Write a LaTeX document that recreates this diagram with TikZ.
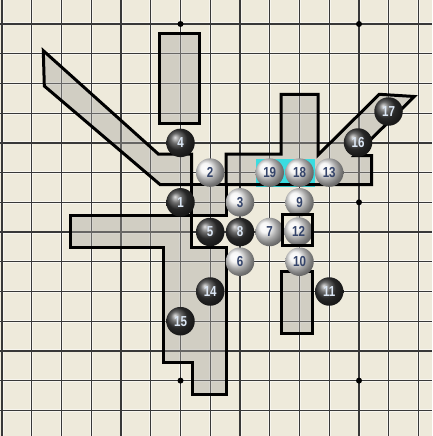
\documentclass[tikz,border=0pt]{standalone}
\usepackage{fontspec}
\setmainfont{Liberation Sans}
\usepackage{graphicx}
\definecolor{board}{HTML}{EEEADB}
\definecolor{shadecol}{HTML}{A9A8A2}
\definecolor{hl}{HTML}{3ADCE0}
\definecolor{bnum}{HTML}{DCE7F5}
\definecolor{wnum}{HTML}{34446A}
\newcommand\stonenum[1]{\scalebox{0.8}[1]{#1}}
\begin{document}
\begin{tikzpicture}[x=1pt,y=-1pt,
  gridhalo/.style={line width=3pt, draw=white, draw opacity=0.55},
  gridline/.style={line width=1.3pt, draw=black!78},
  region/.style={fill=shadecol, fill opacity=0.42},
  outline/.style={line width=3pt, draw=black, line join=miter},
  stonebase/.style={circle, minimum size=28.5pt, inner sep=0pt,
    font=\bfseries\fontsize{14.5}{14.5}\selectfont},
  bstone/.style={stonebase, shading=ball, ball color=black!78, text=bnum},
  wstone/.style={stonebase, shading=ball, ball color=white!95!black, text=wnum},
  hoshi/.style={fill=black}
]
\useasboundingbox (0,0) rectangle (432,436);
\fill[board] (0,0) rectangle (432,436);
% grid
\foreach \k in {0,...,14} {
  \draw[gridhalo] ({2+29.75*\k},0) -- ({2+29.75*\k},436);
}
\foreach \k in {0,...,13} {
  \draw[gridhalo] (0,{24+29.72*\k}) -- (432,{24+29.72*\k});
}
\foreach \k in {0,...,14} {
  \draw[gridline] ({2+29.75*\k},0) -- ({2+29.75*\k},436);
}
\foreach \k in {0,...,13} {
  \draw[gridline] (0,{24+29.72*\k}) -- (432,{24+29.72*\k});
}
% star points
\foreach \x in {180.5,359} {
  \foreach \y in {24,202.3,380.6} {
    \fill[hoshi] (\x,\y) circle (3);
  }
}
% shaded regions
\fill[region] (159,33.3) rectangle (199,123.3);
\fill[region] (43.3,50.7) -- (158.3,154) -- (191.7,154) -- (191.7,184.5) -- (160,184.5) -- (44.3,86) -- cycle;
\fill[region] (226,154) -- (281,154) -- (281,94.3) -- (318,94.3) -- (318,155) -- (379.3,94.3) -- (414.3,96.5) -- (354.5,155.5) -- (371.7,155.5) -- (371.7,184.5) -- (226,184.5) -- cycle;
\fill[region] (191.7,184.5) rectangle (226,215);
\fill[region] (70,215) -- (191.7,215) -- (191.7,247.3) -- (226,247.3) -- (226,394.5) -- (192.7,394.5) -- (192.7,362.3) -- (163.3,362.3) -- (163.3,247.3) -- (70,247.3) -- cycle;
\fill[region] (281.5,271.3) rectangle (312.7,333.3);
% cyan highlight
\fill[hl] (255.5,158.5) rectangle (314.5,187);
% outlines
\draw[outline] (159,33.3) rectangle (199,123.3);
\draw[outline] (43.3,50.7) -- (158.3,154) -- (191.7,154) -- (191.7,184.5) -- (160,184.5) -- (44.3,86) -- cycle;
\draw[outline] (226,154) -- (281,154) -- (281,94.3) -- (318,94.3) -- (318,155) -- (379.3,94.3) -- (414.3,96.5) -- (354.5,155.5) -- (371.7,155.5) -- (371.7,184.5) -- (226,184.5) -- cycle;
\draw[outline] (191.7,184.5) rectangle (226,215);
\draw[outline] (70,215) -- (191.7,215) -- (191.7,247.3) -- (226,247.3) -- (226,394.5) -- (192.7,394.5) -- (192.7,362.3) -- (163.3,362.3) -- (163.3,247.3) -- (70,247.3) -- cycle;
\draw[outline] (281.5,271.3) rectangle (312.7,333.3);
% stones
\node[bstone] (s1) at (180.5,202.3) {\stonenum{1}};
\node[wstone] (s2) at (210.2,172.6) {\stonenum{2}};
\node[wstone] (s3) at (240,202.3) {\stonenum{3}};
\node[bstone] (s4) at (180.5,142.9) {\stonenum{4}};
\node[bstone] (s5) at (210.2,232) {\stonenum{5}};
\node[wstone] (s6) at (240,261.7) {\stonenum{6}};
\node[wstone] (s7) at (269.7,232) {\stonenum{7}};
\node[bstone] (s8) at (240,232) {\stonenum{8}};
\node[wstone] (s9) at (299.5,202.3) {\stonenum{9}};
\node[wstone] (s10) at (299.5,261.7) {\stonenum{10}};
\node[bstone] (s11) at (329.2,291.5) {\stonenum{11}};
\node[wstone] (s12) at (298.5,231.5) {\stonenum{12}};
\node[wstone] (s13) at (329.2,172.6) {\stonenum{13}};
\node[bstone] (s14) at (210.2,291.5) {\stonenum{14}};
\node[bstone] (s15) at (180.5,321.2) {\stonenum{15}};
\node[bstone] (s16) at (358,142.5) {\stonenum{16}};
\node[bstone] (s17) at (388.5,111.5) {\stonenum{17}};
\node[wstone] (s18) at (299.5,172.6) {\stonenum{18}};
\node[wstone] (s19) at (269.7,172.6) {\stonenum{19}};
% square mark around 12
\draw[outline] (282,214) rectangle (312.7,245.5);
\end{tikzpicture}
\end{document}
